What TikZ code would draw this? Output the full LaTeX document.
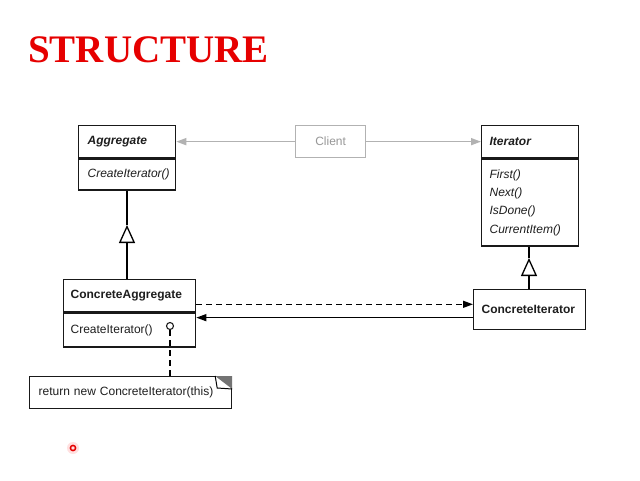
\documentclass[tikz,border=0pt]{standalone}
\usepackage{fontspec}
\setmainfont{Liberation Serif}
\setsansfont{Liberation Sans}
\usetikzlibrary{arrows,arrows.meta}

\definecolor{umlgray}{RGB}{178,178,178}
\definecolor{umltext}{RGB}{30,30,30}

\begin{document}
\begin{tikzpicture}[x=1pt,y=-1pt,>={Triangle[length=10pt,width=7pt]}]
			\tikzstyle{every node} = [font=\sffamily\fontsize{12}{18.3}\selectfont,text=umltext];
			\tikzstyle{cls} = [draw=black!90,line width=1.3pt,inner ysep=0pt,align=left,anchor=north west];
			\tikzstyle{inherit} = [-{Triangle[open,length=18pt,width=16pt,fill=white]},line width=1.3pt];
			\useasboundingbox[fill=white] (0,0) rectangle (640,480);
			% title
			\node[anchor=base west,inner sep=0pt,font=\rmfamily\bfseries\fontsize{39}{39}\selectfont,text={rgb,255:red,230;green,0;blue,0}] (title) at (28,62) {STRUCTURE};
			% classes
			\node[cls,font=\sffamily\bfseries\itshape\fontsize{12}{14}\selectfont,inner xsep=9pt,text width=79pt,minimum height=32pt] (agg) at (78,125) {Aggregate};
			\node[cls,font=\sffamily\itshape\fontsize{12}{14}\selectfont,inner xsep=9pt,text width=79pt,minimum height=31pt] (aggop) at (agg.south west) {CreateIterator()};
			\node[cls,font=\sffamily\bfseries\itshape\fontsize{12}{14}\selectfont,inner xsep=8pt,text width=81pt,minimum height=32pt] (it) at (481,125) {Iterator};
			\node[cls,font=\sffamily\itshape\fontsize{12}{18.3}\selectfont,inner xsep=8pt,text width=81pt,minimum height=87pt] (itop) at (it.south west) {First()\\Next()\\IsDone()\\CurrentItem()};
			\node[cls,font=\sffamily\bfseries\fontsize{12}{14}\selectfont,inner xsep=7pt,text width=118pt,minimum height=32pt] (cagg) at (63,279) {ConcreteAggregate};
			\node[cls,inner xsep=7pt,text width=118pt,minimum height=34pt] (caggop) at (cagg.south west) {CreateIterator()};
			\node[cls,font=\sffamily\bfseries\fontsize{12}{14}\selectfont,inner xsep=8pt,text width=96pt,minimum height=40pt] (cit) at (473,289) {ConcreteIterator};
			\node[draw=umlgray,line width=1.3pt,minimum width=70pt,minimum height=32pt,anchor=north west,text=umlgray!85!black] (client) at (295,125) {Client};
			% note
			\node[cls,line width=1.2pt,inner xsep=9pt,text width=184pt,minimum height=32pt] (note) at (29,376) {return new ConcreteIterator(this)};
			\fill[black!55] ([xshift=-17pt]note.north east) -- (note.north east) -- ([yshift=-13pt]note.north east) -- cycle;
			\draw[line width=1pt] ([xshift=-17pt]note.north east) -- ([xshift=-15pt,yshift=-12pt]note.north east) -- ([yshift=-13pt]note.north east);
			\node[circle,draw=umltext,line width=1.1pt,inner sep=0pt,minimum size=7pt] (hook) at (170,326) {};
			\draw[line width=1.3pt,dash pattern=on 6pt off 4pt] (hook) -- (hook |- note.north);
			% client uses
			\draw[->,umlgray,line width=1.5pt] (client.west) -- (agg.east);
			\draw[->,umlgray,line width=1.5pt] (client.east) -- (it.west);
			% generalisations
			\coordinate (t1) at (127,225);
			\coordinate (t2) at (529,258);
			\draw[inherit] (t1 |- cagg.north) -- (t1);
			\draw[line width=1.3pt] (t1) -- (t1 |- aggop.south);
			\draw[inherit] (t2 |- cit.north) -- (t2);
			\draw[line width=1.3pt] (t2) -- (t2 |- itop.south);
			% create / reference
			\draw[->,line width=1.3pt,dash pattern=on 6pt off 4pt] ([yshift=8pt]cagg.south east) -- ([yshift=8pt]cagg.south east -| cit.west);
			\draw[->,line width=1.3pt] ([yshift=-8pt]cit.west) -- ([yshift=-8pt]cit.west -| caggop.east);
			% pointer mark
			\fill[red!12] (73,448) circle (6);
			\draw[red!90!black,line width=1.5pt] (73,448) circle (2.6);
		\end{tikzpicture}
\end{document}
